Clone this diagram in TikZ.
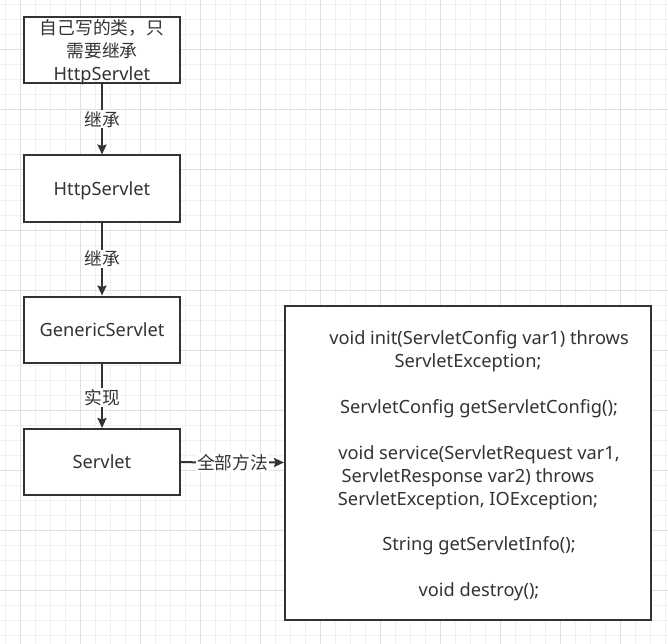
\documentclass[tikz,border=0pt]{standalone}
\usepackage{fontspec}
\setmainfont{Noto Sans}
\newfontfamily\cjk{Noto Sans CJK SC}
\usetikzlibrary{arrows.meta}
\definecolor{ink}{HTML}{333333}
\definecolor{gridminor}{HTML}{F0F0F0}
\definecolor{gridmajor}{HTML}{E0E0E0}
\begin{document}
\begin{tikzpicture}[x=1bp,y=-1bp,
  box/.style={draw=ink, line width=2bp, minimum width=156bp, minimum height=66bp,
    inner sep=0pt, text=ink, align=center, text depth=0pt, font=\fontsize{18.3}{23}\selectfont},
  bigbox/.style={draw=ink, line width=2bp, minimum width=366bp, minimum height=314bp,
    inner sep=0pt},
  conn/.style={draw=ink, line width=2bp, -{Stealth[length=10bp,width=9bp,inset=1.5bp]}},
  lbl/.style={fill=white, text=ink, font=\cjk\fontsize{17.8}{20}\selectfont, inner sep=1bp},
  codetext/.style={text=ink, align=center, inner sep=0pt, font=\fontsize{18.3}{23}\selectfont}]
\useasboundingbox (0,0) rectangle (668,644);
\fill[white] (0,0) rectangle (668,644);
\foreach \x in {5,20,...,665} \draw[gridminor, line width=1bp] (\x,0) -- (\x,644);
\foreach \y in {5,20,...,640} \draw[gridminor, line width=1bp] (0,\y) -- (668,\y);
\foreach \x in {20,80,...,665} \draw[gridmajor, line width=1bp] (\x,0) -- (\x,644);
\foreach \y in {50,110,...,640} \draw[gridmajor, line width=1bp] (0,\y) -- (668,\y);

\node[box, fill=white] (b1) at (102,50) {{\cjk\fontsize{17.8}{23}\selectfont 自己写的类，只}\\{\cjk\fontsize{17.8}{23}\selectfont 需要继承}\\HttpServlet};
\node[box, fill=white] (b2) at (102,188.5) {HttpServlet};
\node[box, fill=white] (b3) at (102,329.5) {GenericServlet};
\node[box, fill=white] (b4) at (102,462) {Servlet};
\node[bigbox, fill=white] (big) at (468,463) {};
\node[codetext, yshift=-3bp] (code) at (big.center) {%
\hspace*{22bp}void init(ServletConfig var1) throws\\
ServletException;\\
\mbox{}\\
\hspace*{22bp}ServletConfig getServletConfig();\\
\mbox{}\\
\hspace*{22bp}void service(ServletRequest var1,\\
ServletResponse var2) throws\\
ServletException, IOException;\\
\mbox{}\\
\hspace*{22bp}String getServletInfo();\\
\mbox{}\\
\hspace*{22bp}void destroy();};

\draw[conn] (b1) -- (b2) node[midway, lbl] {继承};
\draw[conn] (b2) -- (b3) node[midway, lbl] {继承};
\draw[conn] (b3) -- (b4) node[pos=0.53, lbl] {实现};
\draw[conn] (b4) -- (big) node[midway, lbl] {全部方法};
\end{tikzpicture}
\end{document}
